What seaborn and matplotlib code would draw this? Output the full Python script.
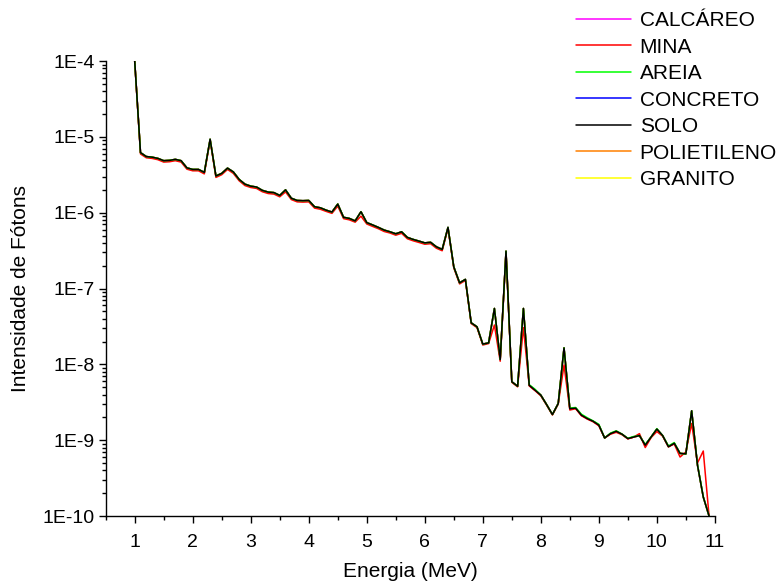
import numpy as np
import seaborn as sns
import matplotlib
matplotlib.use('Agg')
import matplotlib.pyplot as plt
from matplotlib.ticker import FuncFormatter, LogLocator, MultipleLocator

# Energy grid (MeV): one point every 0.1 MeV
energia = [1.0, 1.1, 1.2, 1.3, 1.4, 1.5, 1.6, 1.7, 1.8, 1.9,
           2.0, 2.1, 2.2, 2.3, 2.4, 2.5, 2.6, 2.7, 2.8, 2.9,
           3.0, 3.1, 3.2, 3.3, 3.4, 3.5, 3.6, 3.7, 3.8, 3.9,
           4.0, 4.1, 4.2, 4.3, 4.4, 4.5, 4.6, 4.7, 4.8, 4.9,
           5.0, 5.1, 5.2, 5.3, 5.4, 5.5, 5.6, 5.7, 5.8, 5.9,
           6.0, 6.1, 6.2, 6.3, 6.4, 6.5, 6.6, 6.7, 6.8, 6.9,
           7.0, 7.1, 7.2, 7.3, 7.4, 7.5, 7.6, 7.7, 7.8, 7.9,
           8.0, 8.1, 8.2, 8.3, 8.4, 8.5, 8.6, 8.7, 8.8, 8.9,
           9.0, 9.1, 9.2, 9.3, 9.4, 9.5, 9.6, 9.7, 9.8, 9.9,
           10.0, 10.1, 10.2, 10.3, 10.4, 10.5, 10.6, 10.7, 10.8, 10.9]

# SOLO (black curve, on top of the others)
solo = [1.0e-4, 6.2e-6, 5.5e-6, 5.4e-6, 5.2e-6, 4.85e-6, 4.9e-6, 5.05e-6, 4.85e-6, 3.9e-6,
        3.72e-6, 3.72e-6, 3.4e-6, 9.3e-6, 3.05e-6, 3.3e-6, 3.87e-6, 3.45e-6, 2.75e-6, 2.38e-6,
        2.24e-6, 2.18e-6, 1.97e-6, 1.87e-6, 1.84e-6, 1.69e-6, 2.0e-6, 1.55e-6, 1.45e-6, 1.44e-6,
        1.45e-6, 1.2e-6, 1.16e-6, 1.08e-6, 1.02e-6, 1.3e-6, 8.7e-7, 8.4e-7, 7.8e-7, 1.03e-6,
        7.4e-7, 6.9e-7, 6.4e-7, 5.9e-7, 5.6e-7, 5.27e-7, 5.6e-7, 4.72e-7, 4.44e-7, 4.22e-7,
        4.0e-7, 4.07e-7, 3.55e-7, 3.28e-7, 6.4e-7, 1.93e-7, 1.19e-7, 1.32e-7, 3.53e-8, 3.13e-8,
        1.85e-8, 1.92e-8, 5.46e-8, 1.16e-8, 3.11e-7, 5.9e-9, 5.15e-9, 5.46e-8, 5.3e-9, 4.57e-9,
        3.93e-9, 2.95e-9, 2.18e-9, 3.05e-9, 1.65e-8, 2.6e-9, 2.65e-9, 2.14e-9, 1.93e-9, 1.78e-9,
        1.58e-9, 1.07e-9, 1.22e-9, 1.31e-9, 1.2e-9, 1.05e-9, 1.1e-9, 1.15e-9, 8.6e-10, 1.1e-9,
        1.4e-9, 1.15e-9, 8.2e-10, 9.1e-10, 6.7e-10, 6.6e-10, 2.44e-9, 4.7e-10, 1.78e-10, 1.0e-10]

# MINA (red curve, slightly below SOLO, lower at several peaks)
mina = [1.0e-4, 5.95e-6, 5.3e-6, 5.2e-6, 5.0e-6, 4.65e-6, 4.7e-6, 4.85e-6, 4.65e-6, 3.75e-6,
        3.57e-6, 3.57e-6, 3.25e-6, 9.0e-6, 2.92e-6, 3.17e-6, 3.72e-6, 3.3e-6, 2.64e-6, 2.28e-6,
        2.15e-6, 2.09e-6, 1.89e-6, 1.79e-6, 1.76e-6, 1.62e-6, 1.88e-6, 1.49e-6, 1.39e-6, 1.38e-6,
        1.39e-6, 1.15e-6, 1.11e-6, 1.04e-6, 9.8e-7, 1.22e-6, 8.35e-7, 8.05e-7, 7.5e-7, 9.0e-7,
        7.1e-7, 6.6e-7, 6.15e-7, 5.65e-7, 5.4e-7, 5.05e-7, 5.35e-7, 4.53e-7, 4.26e-7, 4.05e-7,
        3.84e-7, 3.9e-7, 3.4e-7, 3.15e-7, 6.2e-7, 1.87e-7, 1.15e-7, 1.28e-7, 3.45e-8, 3.05e-8,
        1.8e-8, 1.88e-8, 3.3e-8, 1.1e-8, 3.0e-7, 5.8e-9, 5.05e-9, 3.06e-8, 5.2e-9, 4.5e-9,
        3.85e-9, 2.9e-9, 2.15e-9, 3.0e-9, 9.8e-9, 2.5e-9, 2.6e-9, 2.1e-9, 1.9e-9, 1.75e-9,
        1.55e-9, 1.07e-9, 1.2e-9, 1.27e-9, 1.18e-9, 1.04e-9, 1.1e-9, 1.22e-9, 8.0e-10, 1.08e-9,
        1.3e-9, 1.13e-9, 8.2e-10, 8.9e-10, 6.0e-10, 7.0e-10, 1.66e-9, 5.0e-10, 7.2e-10, 1.0e-10]

# AREIA (green curve, almost identical to SOLO)
areia = [1.0e-4, 6.2e-6, 5.5e-6, 5.4e-6, 5.2e-6, 4.85e-6, 4.9e-6, 5.05e-6, 4.85e-6, 3.9e-6,
         3.72e-6, 3.72e-6, 3.4e-6, 9.3e-6, 3.05e-6, 3.3e-6, 3.87e-6, 3.45e-6, 2.75e-6, 2.38e-6,
         2.24e-6, 2.18e-6, 1.97e-6, 1.87e-6, 1.84e-6, 1.69e-6, 2.0e-6, 1.55e-6, 1.45e-6, 1.44e-6,
         1.45e-6, 1.2e-6, 1.16e-6, 1.08e-6, 1.02e-6, 1.3e-6, 8.7e-7, 8.4e-7, 7.8e-7, 1.03e-6,
         7.4e-7, 6.9e-7, 6.4e-7, 5.9e-7, 5.6e-7, 5.27e-7, 5.6e-7, 4.72e-7, 4.44e-7, 4.22e-7,
         4.0e-7, 4.07e-7, 3.55e-7, 3.28e-7, 6.4e-7, 1.93e-7, 1.19e-7, 1.32e-7, 3.53e-8, 3.13e-8,
         1.85e-8, 1.92e-8, 5.46e-8, 1.16e-8, 3.11e-7, 5.9e-9, 5.15e-9, 5.46e-8, 5.4e-9, 4.7e-9,
         3.93e-9, 2.95e-9, 2.18e-9, 3.05e-9, 1.65e-8, 2.65e-9, 2.7e-9, 2.2e-9, 1.98e-9, 1.8e-9,
         1.62e-9, 1.07e-9, 1.24e-9, 1.33e-9, 1.2e-9, 1.06e-9, 1.12e-9, 1.15e-9, 8.8e-10, 1.1e-9,
         1.42e-9, 1.15e-9, 8.4e-10, 9.3e-10, 6.7e-10, 6.6e-10, 2.44e-9, 4.8e-10, 1.8e-10, 1.0e-10]

# CALCÁREO, CONCRETO, POLIETILENO and GRANITO lie under the SOLO curve
calcareo = list(solo)
concreto = list(solo)
polietileno = list(solo)
granito = list(solo)

legend_order = ['CALCÁREO', 'MINA', 'AREIA', 'CONCRETO', 'SOLO', 'POLIETILENO', 'GRANITO']
draw_order = [('CALCÁREO', calcareo, '#FF00FF'),
              ('CONCRETO', concreto, '#0000FF'),
              ('POLIETILENO', polietileno, '#FF8000'),
              ('GRANITO', granito, '#FFFF00'),
              ('MINA', mina, '#FF0000'),
              ('AREIA', areia, '#00FF00'),
              ('SOLO', solo, '#000000')]

sns.set_style('ticks')
plt.rcParams['font.family'] = ['Liberation Sans', 'DejaVu Sans']
plt.rcParams['text.color'] = 'black'
plt.rcParams['axes.labelcolor'] = 'black'
plt.rcParams['xtick.color'] = 'black'
plt.rcParams['ytick.color'] = 'black'

fig = plt.figure(figsize=(7.8, 5.88), dpi=100)
ax = fig.add_axes([0.1355, 0.1224, 0.781, 0.7738])

for name, values, color in draw_order:
    sns.lineplot(x=energia, y=values, color=color, label=name, linewidth=1.1, ax=ax)

ax.set_yscale('log')
ax.set_xlim(0.5, 11)
ax.set_ylim(1e-10, 1e-4)
ax.xaxis.set_major_locator(MultipleLocator(1))
ax.xaxis.set_minor_locator(MultipleLocator(0.5))
ax.yaxis.set_major_locator(LogLocator(base=10, numticks=10))
ax.yaxis.set_minor_locator(LogLocator(base=10, subs=np.arange(2, 10), numticks=20))
ax.yaxis.set_major_formatter(FuncFormatter(lambda v, p: '1E%d' % int(round(np.log10(v)))))
ax.tick_params(axis='both', which='major', direction='out', length=5, width=1, labelsize=14)
ax.tick_params(axis='both', which='minor', direction='out', length=3, width=1)
ax.tick_params(axis='x', which='major', pad=8)
ax.tick_params(axis='y', which='major', pad=3)
for side in ['top', 'right']:
    ax.spines[side].set_visible(False)
for side in ['left', 'bottom']:
    ax.spines[side].set_linewidth(1)
    ax.spines[side].set_color('black')

ax.set_xlabel('Energia (MeV)', fontsize=15, labelpad=8)
ax.set_ylabel('Intensidade de Fótons', fontsize=15, labelpad=9)

handles, labels = ax.get_legend_handles_labels()
lookup = dict(zip(labels, handles))
ax.legend_.remove()
fig.legend([lookup[n] for n in legend_order], legend_order, loc='upper left',
           bbox_to_anchor=(0.72, 1.006), frameon=False, fontsize=15,
           handlelength=2.65, handletextpad=0.4, labelspacing=0.36, borderpad=0.2)

fig.savefig('out.png', dpi=100)
